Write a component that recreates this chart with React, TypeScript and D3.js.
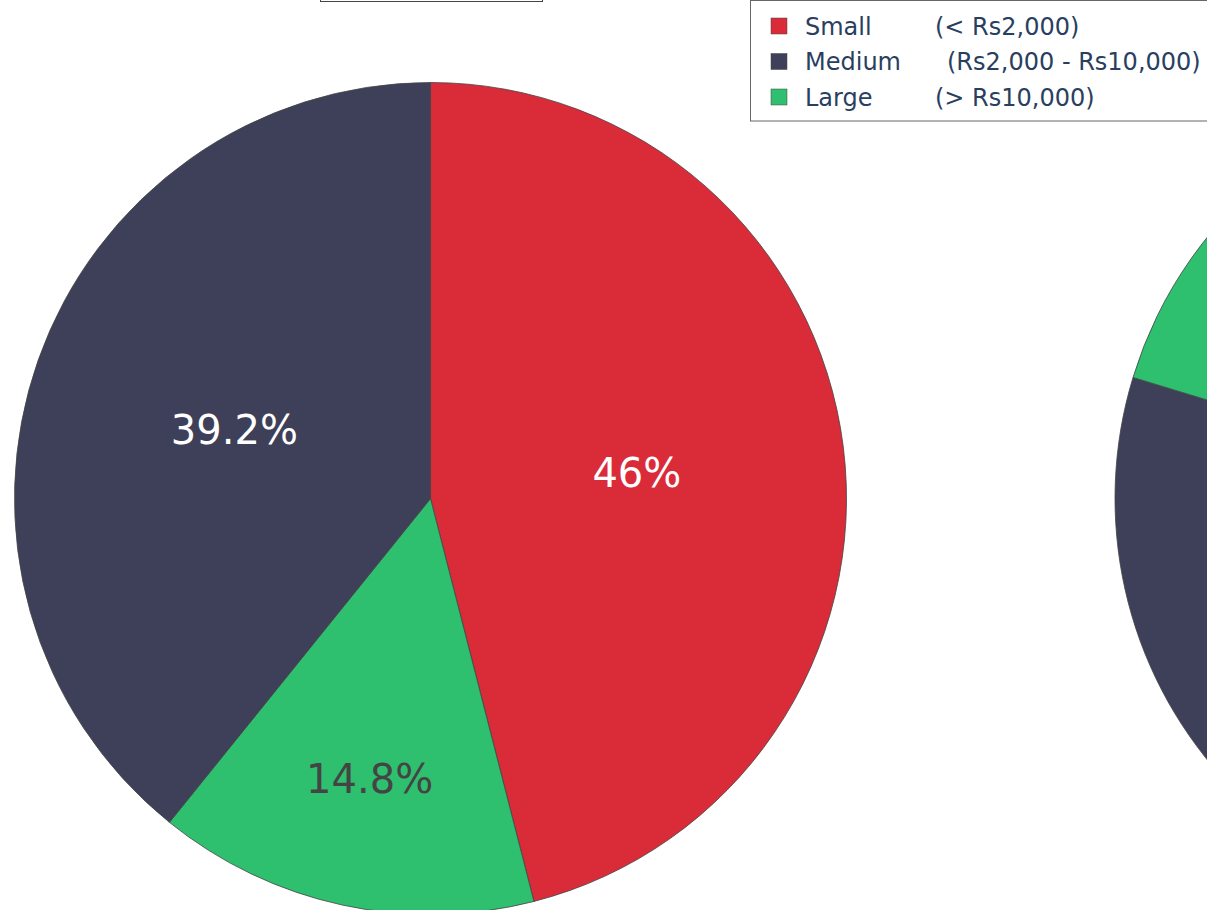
import React, { useEffect } from "react";
import * as d3 from "d3";

// slice order, clockwise from 12 o'clock
const categories = ["Small", "Medium", "Large"];
const ranges = ["(< Rs2,000)", "(Rs2,000 - Rs10,000)", "(> Rs10,000)"];
const colors = ["#da2b39", "#3e4059", "#2ebf6f"];

// left pie (fully labelled)
const pie1Order = ["Small", "Large", "Medium"];
const pie1Values = [46.0, 14.8, 39.2];

// right pie (mostly off screen)
const pie2Order = ["Small", "Medium", "Large"];
const pie2Values = [46.9, 32.8, 20.3];

const W = 1207;
const H = 910;
const R = 416;

const colorOf = (c: string) => colors[categories.indexOf(c)];

function Pie({ cx, cy, order, values, showText }: any) {
  const pie = d3.pie<number>().sort(null).value((d) => d);
  const arcs = pie(values);
  const arc = d3.arc<d3.PieArcDatum<number>>().innerRadius(0).outerRadius(R);
  const total = d3.sum(values);
  return (
    <g transform={`translate(${cx},${cy})`}>
      {arcs.map((a, i) => (
        <path key={i} d={arc(a) || ""} fill={colorOf(order[i])} stroke="#444" strokeWidth={0.8} />
      ))}
      {showText &&
        arcs.map((a, i) => {
          const span = a.endAngle - a.startAngle;
          const mid = (a.startAngle + a.endAngle) / 2;
          const lr = R * (span > Math.PI / 2 ? 0.5 : 0.69);
          const x = lr * Math.sin(mid);
          const y = -lr * Math.cos(mid);
          const fill = d3.lab(colorOf(order[i])).l > 60 ? "#444" : "#fff";
          const pct = d3.format(".3~r")((values[i] / total) * 100) + "%";
          return (
            <text key={"t" + i} x={x} y={y} dy="0.36em" textAnchor="middle"
              fontFamily="DejaVu Sans, sans-serif" fontSize={40} fill={fill}>
              {pct}
            </text>
          );
        })}
    </g>
  );
}

export default function App() {
  useEffect(() => {
    document.body.style.margin = "0";
  }, []);

  const rowY = d3.scalePoint<string>().domain(categories).range([26, 97]);

  return (
    <svg width={W} height={H} style={{ display: "block", background: "#fff" }}>
      <Pie cx={430.5} cy={498.5} order={pie1Order} values={pie1Values} showText />
      <Pie cx={1531} cy={498.5} order={pie2Order} values={pie2Values} showText={false} />

      {/* title box, cut off at the top */}
      <rect x={320.5} y={-20} width={222} height={21.5} fill="none" stroke="#444" strokeWidth={1} />

      {/* legend */}
      <rect x={750.5} y={0.5} width={480} height={120.5} fill="#fff" stroke="#666" strokeWidth={1} />
      {categories.map((c, i) => {
        const y = rowY(c) as number;
        return (
          <g key={c}>
            <rect x={771} y={y - 8} width={16} height={16} fill={colors[i]} stroke="#444" strokeWidth={0.5} />
            <text x={805} y={y} dy="0.36em" fontFamily="DejaVu Sans, sans-serif" fontSize={24} fill="#2a3f5f">
              {c}
            </text>
            <text x={c === "Medium" ? 947 : 935} y={y} dy="0.36em" fontFamily="DejaVu Sans, sans-serif"
              fontSize={24} fill="#2a3f5f">
              {ranges[i]}
            </text>
          </g>
        );
      })}
    </svg>
  );
}
